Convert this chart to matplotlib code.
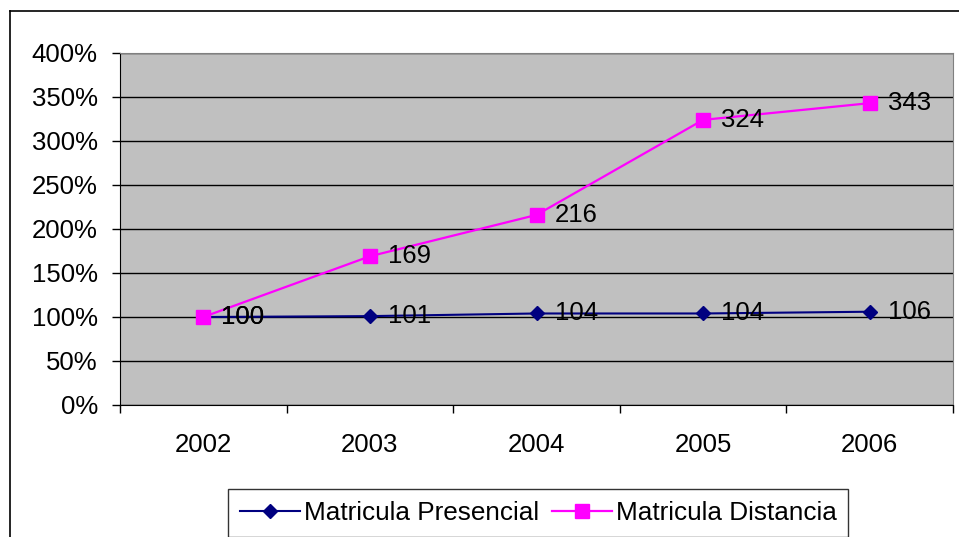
import matplotlib
matplotlib.use("Agg")
import matplotlib.pyplot as plt
from matplotlib.lines import Line2D
from matplotlib.ticker import FixedLocator, FuncFormatter

plt.rcParams["font.family"] = ["Liberation Sans", "DejaVu Sans"]

years = ["2002", "2003", "2004", "2005", "2006"]
presencial = [100, 101, 104, 104, 106]
distancia = [100, 169, 216, 324, 343]
y_ticks = [0, 50, 100, 150, 200, 250, 300, 350, 400]

FS = 18.5
W, H = 959, 537
fig = plt.figure(figsize=(W / 100, H / 100), dpi=100)
fig.patch.set_facecolor("white")

# outer chart border (top and left visible, the rest is cropped off)
fig.add_artist(Line2D([10 / W, 10 / W], [0, 1 - 11 / H], color="black", lw=1.2))
fig.add_artist(Line2D([10 / W, 1], [1 - 11 / H, 1 - 11 / H], color="black", lw=1.2))

ax = fig.add_axes([120 / W, 1 - 405 / H, (953 - 120) / W, (405 - 53) / H])
ax.set_facecolor("#C0C0C0")

x = list(range(len(years)))
ax.plot(x, presencial, "-D", color="#000080", lw=1.5, markersize=7.5,
        label="Matricula Presencial", zorder=3)
ax.plot(x, distancia, "-s", color="#FF00FF", lw=1.6, markersize=9.5,
        label="Matricula Distancia", zorder=4)

for xi, v in zip(x, presencial):
    ax.annotate(str(v), (xi, v), xytext=(13, 0), textcoords="offset points",
                va="center", ha="left", fontsize=FS, zorder=5)
for xi, v in zip(x, distancia):
    ax.annotate(str(v), (xi, v), xytext=(13, 0), textcoords="offset points",
                va="center", ha="left", fontsize=FS, zorder=5)

ax.set_xlim(-0.5, len(years) - 0.5)
ax.set_ylim(0, 400)
ax.set_yticks(y_ticks)
ax.yaxis.set_major_formatter(FuncFormatter(lambda v, p: f"{v:.0f}%"))
ax.tick_params(axis="y", length=6, width=1, pad=10, labelsize=FS)

ax.xaxis.set_major_locator(FixedLocator([i - 0.5 for i in range(len(years) + 1)]))
ax.xaxis.set_minor_locator(FixedLocator(x))
ax.set_xticklabels([""] * (len(years) + 1))
ax.set_xticklabels(years, minor=True)
ax.tick_params(axis="x", which="major", length=6, width=1, direction="out")
ax.tick_params(axis="x", which="minor", length=0, pad=20, labelsize=FS)

ax.grid(axis="y", color="black", lw=1)
ax.set_axisbelow(True)
for s in ["top", "right"]:
    ax.spines[s].set_color("#808080")
for s in ["left", "bottom"]:
    ax.spines[s].set_color("black")

leg = fig.legend(loc="upper left", bbox_to_anchor=(228 / W, 1 - 489 / H),
                 ncol=2, fontsize=18.8, frameon=True, fancybox=False,
                 handlelength=2.3, columnspacing=0.5, handletextpad=0.15,
                 borderpad=0.45, borderaxespad=0)
leg.get_frame().set_edgecolor("black")
leg.get_frame().set_linewidth(1.0)

fig.savefig("out.png", dpi=100)
